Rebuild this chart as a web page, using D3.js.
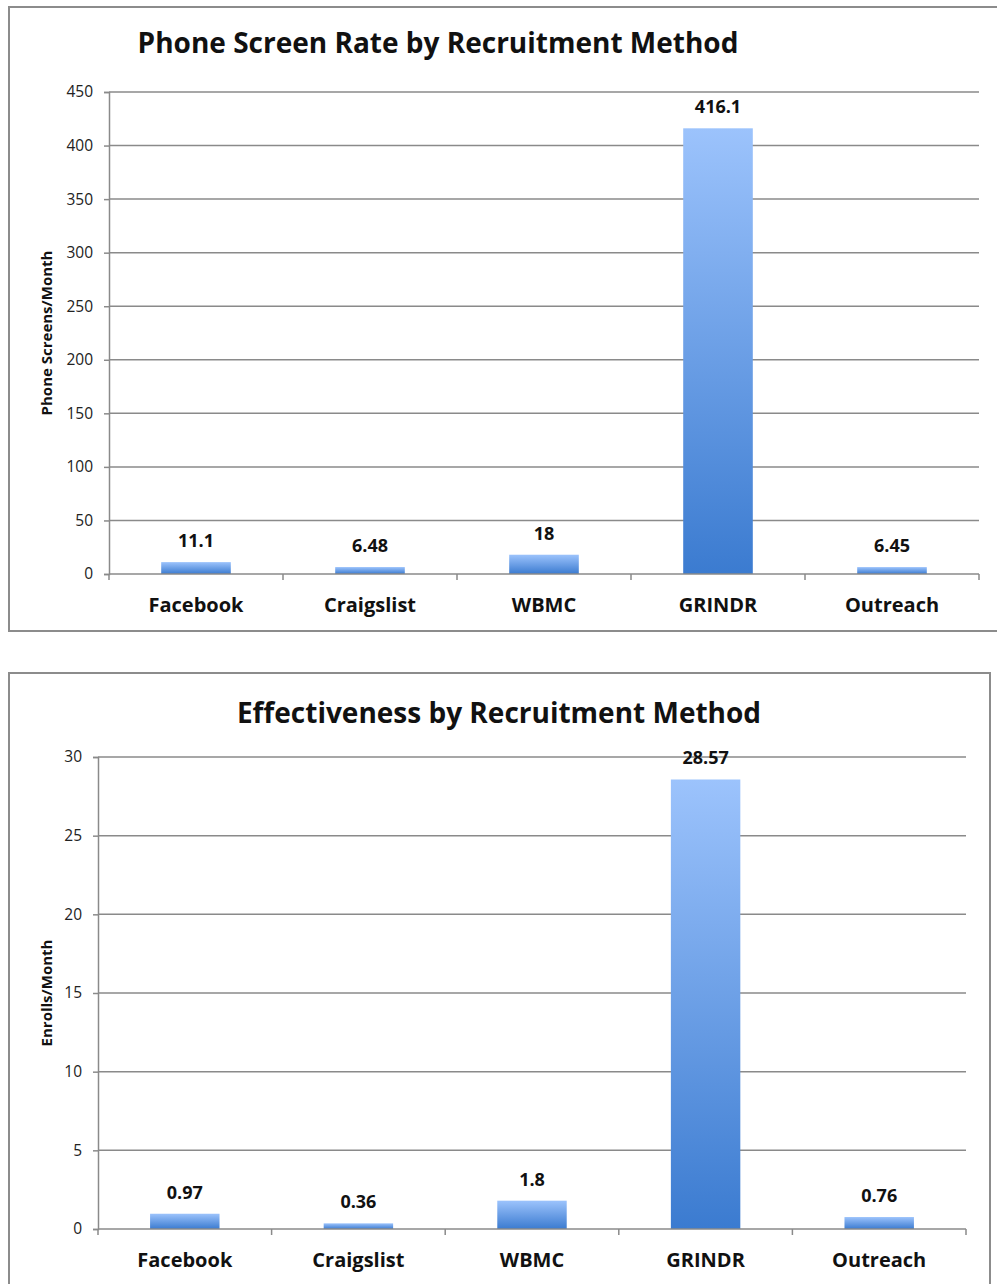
<!DOCTYPE html>
<html>
<head>
<meta charset="utf-8">
<script src="https://cdn.jsdelivr.net/npm/d3@7"></script>
<style>
  body { margin: 0; background: white; }
  text { font-family: "Open Sans", Lato, sans-serif; }
</style>
</head>
<body>
<div id="chart"></div>
<script>
const categories = ['Facebook', 'Craigslist', 'WBMC', 'GRINDR', 'Outreach']
const screenRates = [11.1, 6.48, 18, 416.1, 6.45]
const enrollRates = [0.97, 0.36, 1.8, 28.57, 0.76]
const screenTicks = [0, 50, 100, 150, 200, 250, 300, 350, 400, 450]
const enrollTicks = [0, 5, 10, 15, 20, 25, 30]

const width = 997
const height = 1284

const svg = d3.select('#chart').append('svg')
    .attr('width', width)
    .attr('height', height)

const defs = svg.append('defs')
const grad = defs.append('linearGradient')
    .attr('id', 'barGrad')
    .attr('x1', 0).attr('y1', 0).attr('x2', 0).attr('y2', 1)
grad.append('stop').attr('offset', '0%').attr('stop-color', '#9cc3fc')
grad.append('stop').attr('offset', '100%').attr('stop-color', '#3b7bd0')

function drawChart(cfg) {
    const g = svg.append('g')

    // outer frame
    g.append('rect')
        .attr('x', cfg.box[0]).attr('y', cfg.box[1])
        .attr('width', cfg.box[2]).attr('height', cfg.box[3])
        .attr('fill', 'white')
        .attr('stroke', '#8c8c8c')
        .attr('stroke-width', 2)

    g.append('text')
        .attr('x', cfg.titleX).attr('y', cfg.titleY)
        .attr('text-anchor', 'middle')
        .attr('font-size', 28)
        .attr('font-weight', 'bold')
        .attr('fill', '#111')
        .text(cfg.title)

    const xScale = d3.scaleBand()
        .domain(categories)
        .range([cfg.left, cfg.right])
        .paddingInner(0.6)
        .paddingOuter(0.3)
    const yScale = d3.scaleLinear()
        .domain([0, d3.max(cfg.ticks)])
        .range([cfg.bottom, cfg.top])

    // gridlines
    g.append('g')
        .selectAll('line')
        .data(cfg.ticks.slice(1))
        .join('line')
        .attr('x1', cfg.left).attr('x2', cfg.right)
        .attr('y1', d => yScale(d)).attr('y2', d => yScale(d))
        .attr('stroke', '#8a8a8a')
        .attr('stroke-width', 1.5)

    // y axis
    const yAxis = g.append('g')
        .attr('transform', 'translate(' + cfg.left + ',0)')
        .call(d3.axisLeft(yScale).tickValues(cfg.ticks).tickSize(5).tickPadding(11))
    yAxis.select('.domain').attr('stroke', '#8a8a8a').attr('stroke-width', 1.5)
    yAxis.selectAll('.tick line').attr('stroke', '#8a8a8a').attr('stroke-width', 1.5)
    yAxis.selectAll('.tick text')
        .attr('font-size', 15.5)
        .attr('fill', '#222')
        .style('font-family', '"Open Sans", sans-serif')

    // bars
    g.append('g')
        .selectAll('rect')
        .data(cfg.values)
        .join('rect')
        .attr('x', (d, i) => xScale(categories[i]))
        .attr('y', d => yScale(d))
        .attr('width', xScale.bandwidth())
        .attr('height', d => cfg.bottom - yScale(d))
        .attr('fill', 'url(#barGrad)')

    // value labels
    g.append('g')
        .selectAll('text')
        .data(cfg.values)
        .join('text')
        .attr('x', (d, i) => xScale(categories[i]) + xScale.bandwidth() / 2)
        .attr('y', d => yScale(d) - 15)
        .attr('text-anchor', 'middle')
        .attr('font-size', 18)
        .attr('font-weight', 'bold')
        .attr('fill', '#111')
        .text(d => d)

    // x axis line + boundary ticks
    const step = (cfg.right - cfg.left) / categories.length
    g.append('line')
        .attr('x1', cfg.left).attr('x2', cfg.right)
        .attr('y1', cfg.bottom).attr('y2', cfg.bottom)
        .attr('stroke', '#8a8a8a').attr('stroke-width', 1.5)
    g.append('g')
        .selectAll('line')
        .data(d3.range(categories.length + 1))
        .join('line')
        .attr('x1', d => cfg.left + d * step).attr('x2', d => cfg.left + d * step)
        .attr('y1', cfg.bottom).attr('y2', cfg.bottom + 6)
        .attr('stroke', '#8a8a8a').attr('stroke-width', 1.5)

    g.append('g')
        .selectAll('text')
        .data(categories)
        .join('text')
        .attr('x', d => xScale(d) + xScale.bandwidth() / 2)
        .attr('y', cfg.bottom + 38)
        .attr('text-anchor', 'middle')
        .attr('font-size', 20)
        .attr('font-weight', 'bold')
        .attr('fill', '#111')
        .text(d => d)

    // y axis title
    g.append('text')
        .attr('transform', 'translate(52,' + ((cfg.top + cfg.bottom) / 2) + ') rotate(-90)')
        .attr('text-anchor', 'middle')
        .attr('font-size', 15)
        .attr('font-weight', 'bold')
        .attr('fill', '#111')
        .text(cfg.yTitle)
}

drawChart({
    box: [9, 7, 1000, 624],
    title: 'Phone Screen Rate by Recruitment Method',
    titleX: 438, titleY: 53,
    left: 109, right: 979, top: 92, bottom: 574,
    ticks: screenTicks,
    values: screenRates,
    yTitle: 'Phone Screens/Month'
})

drawChart({
    box: [9, 673, 981, 620],
    title: 'Effectiveness by Recruitment Method',
    titleX: 499, titleY: 723,
    left: 98, right: 966, top: 757, bottom: 1229,
    ticks: enrollTicks,
    values: enrollRates,
    yTitle: 'Enrolls/Month'
})
</script>
</body>
</html>
